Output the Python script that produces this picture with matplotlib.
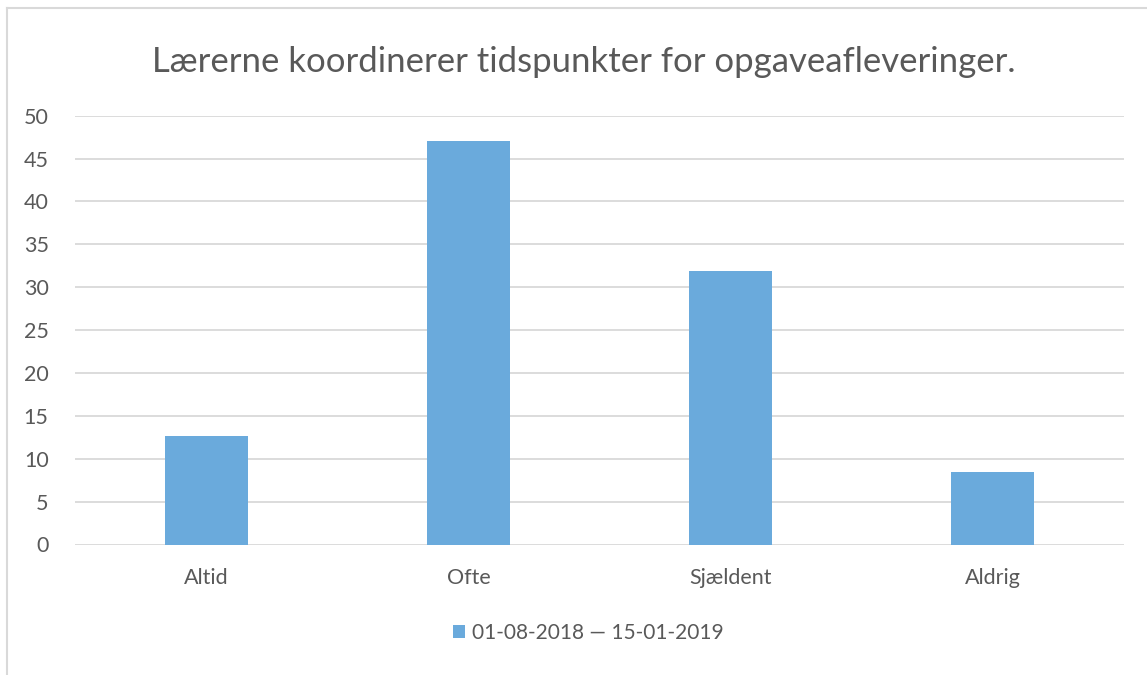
import matplotlib.pyplot as plt
from matplotlib.lines import Line2D

plt.rcParams['font.family'] = ['Lato', 'DejaVu Sans']

# data
categories = ['Altid', 'Ofte', 'Sjældent', 'Aldrig']
values = [12.7, 47.0, 31.9, 8.5]
series_name = '01-08-2018 \u2014 15-01-2019'
title = 'Lærerne koordinerer tidspunkter for opgaveafleveringer.'
yticks = [0, 5, 10, 15, 20, 25, 30, 35, 40, 45, 50]

W, H = 1147, 675
fig = plt.figure(figsize=(W / 100, H / 100), dpi=100)

# light frame (only top and left edges visible)
fig.add_artist(Line2D([7 / W, 1.0], [1 - 7.5 / H, 1 - 7.5 / H], color='#d9d9d9', lw=1.5))
fig.add_artist(Line2D([7.5 / W, 7.5 / W], [0, 1 - 7.5 / H], color='#d9d9d9', lw=1.5))

ax = fig.add_axes([75 / W, (H - 544.5) / H, 1049 / W, (544.5 - 115.7) / H])
bars = ax.bar(range(len(categories)), values, width=0.317, color='#6aaadc',
              label=series_name, zorder=3)

ax.set_xlim(-0.5, len(categories) - 0.5)
ax.set_ylim(0, 50)
ax.set_yticks(yticks)
ax.set_xticks(range(len(categories)))
ax.set_xticklabels(categories)
ax.yaxis.grid(True, color='#d9d9d9', lw=1.3, zorder=0)
for s in ax.spines.values():
    s.set_visible(False)
ax.tick_params(axis='both', length=0, labelsize=15.5, labelcolor='#595959')
ax.tick_params(axis='y', pad=19)
ax.tick_params(axis='x', pad=17)

fig.text(0.509, 1 - 62 / H, title, ha='center', va='center', fontsize=25, color='#595959')

leg = fig.legend(handles=[bars], labels=[series_name], loc='center',
                 bbox_to_anchor=(588 / W, 1 - 633 / H), frameon=False,
                 fontsize=15, handlelength=0.6, handleheight=0.6, handletextpad=0.3)
for t in leg.get_texts():
    t.set_color('#595959')

fig.savefig('out.png', dpi=100, facecolor='white')
